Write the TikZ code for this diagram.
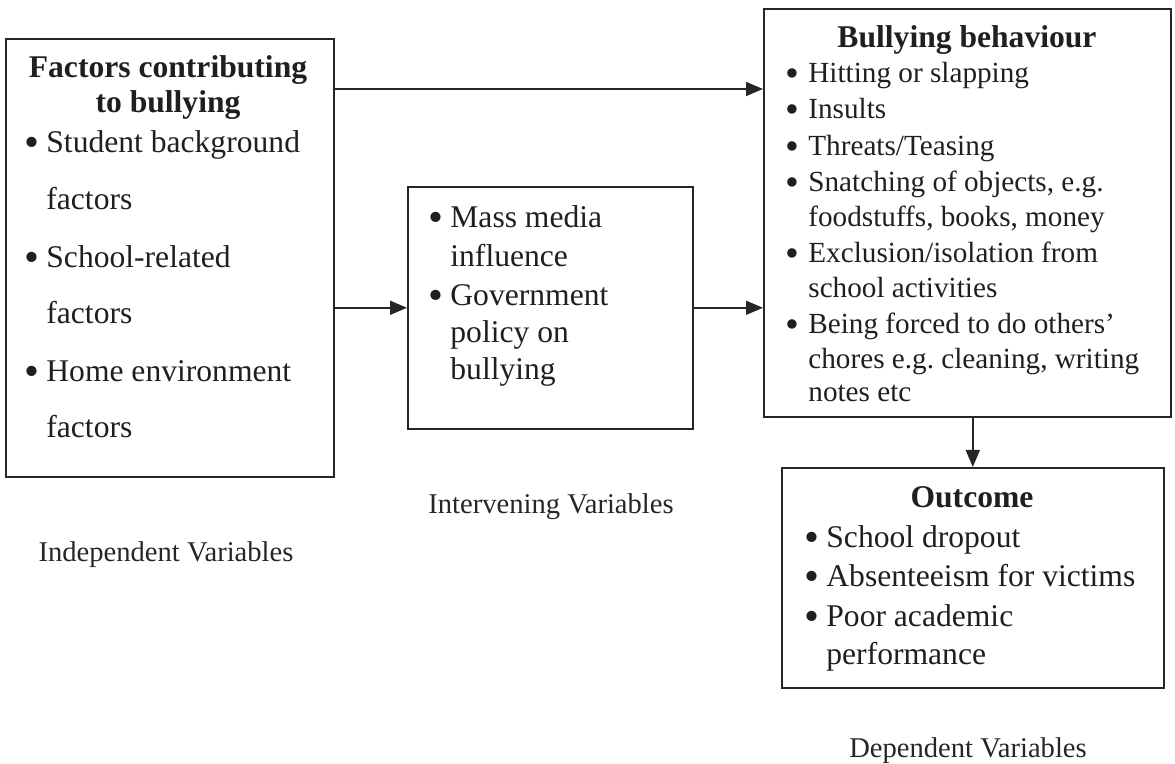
\documentclass[tikz,border=0pt]{standalone}
\usepackage{fontspec}
\setmainfont{Liberation Serif}
\usetikzlibrary{arrows.meta}
\newcommand\fsA{\fontsize{15.8}{19}\selectfont}
\newcommand\fsB{\fontsize{14.6}{18}\selectfont}
\newcommand\fsC{\fontsize{14.3}{17}\selectfont}
\newcommand\bul[1]{\makebox[#1][l]{\raisebox{-0.12em}{\scalebox{1.35}{\textbullet}}}}
\tikzset{
  box/.style={draw=black!85, line width=0.8pt, anchor=north west, inner sep=0pt},
  ta/.style={anchor=base west, inner sep=0pt, font=\fsA, text=black!88},
  tb/.style={anchor=base west, inner sep=0pt, font=\fsB, text=black!88},
  head/.style={anchor=base, inner sep=0pt, font=\fsA\bfseries, text=black!88},
  lab/.style={anchor=base, inner sep=0pt, font=\fsC, text=black!85},
  arr/.style={draw=black!85, line width=0.8pt, -{Triangle[length=8.5pt,width=7pt]}}
}
\begin{document}
\begin{tikzpicture}[x=0.5pt,y=-0.5pt]
\useasboundingbox (0,0) rectangle (1175,764);
% boxes
\node[box, minimum width=164pt, minimum height=219pt] (left) at (5,38) {};
\node[box, minimum width=142.5pt, minimum height=121pt] (mid) at (407,186) {};
\node[box, minimum width=203.5pt, minimum height=204pt] (right) at (763,8) {};
\node[box, minimum width=191pt, minimum height=110pt] (outcome) at (781,467) {};
% left box text
\node[head] (lh1) at (168,78) {Factors contributing};
\node[head] (lh2) at (168,113) {to bullying};
\node[ta] (l1) at (24,153) {\bul{11pt}Student background};
\node[ta] (l2) at (46,210) {factors};
\node[ta] (l3) at (24,268) {\bul{11pt}School-related};
\node[ta] (l4) at (46,324) {factors};
\node[ta] (l5) at (24,382) {\bul{11pt}Home environment};
\node[ta] (l6) at (46,438) {factors};
% middle box text
\node[ta] (m1) at (428,228) {\bul{11pt}Mass media};
\node[ta] (m2) at (450,267) {influence};
\node[ta] (m3) at (428,306) {\bul{11pt}Government};
\node[ta] (m4) at (450,343) {policy on};
\node[ta] (m5) at (450,380) {bullying};
% right box text
\node[head] (rh) at (967,48) {Bullying behaviour};
\node[tb] (r1) at (785,83) {\bul{11.5pt}Hitting or slapping};
\node[tb] (r2) at (785,119) {\bul{11.5pt}Insults};
\node[tb] (r3) at (785,156) {\bul{11.5pt}Threats/Teasing};
\node[tb] (r4) at (785,192) {\bul{11.5pt}Snatching of objects, e.g.};
\node[tb] (r5) at (808,227) {foodstuffs, books, money};
\node[tb] (r6) at (785,263) {\bul{11.5pt}Exclusion/isolation from};
\node[tb] (r7) at (808,298) {school activities};
\node[tb] (r8) at (785,334) {\bul{11.5pt}Being forced to do others'};
\node[tb] (r9) at (808,369) {chores e.g.\ cleaning, writing};
\node[tb] (r10) at (808,402) {notes etc};
% outcome box text
\node[head] (oh) at (972,508) {Outcome};
\node[ta] (o1) at (804,548) {\bul{11pt}School dropout};
\node[ta] (o2) at (804,587) {\bul{11pt}Absenteeism for victims};
\node[ta] (o3) at (804,627) {\bul{11pt}Poor academic};
\node[ta] (o4) at (826,665) {performance};
% labels
\node[lab] (iv) at (551,514) {Intervening Variables};
\node[lab] (indv) at (166,562) {Independent Variables};
\node[lab] (dv) at (968,758) {Dependent Variables};
% connectors
\coordinate (t) at (333,89);
\draw[arr] (t) -- (t -| right.west);
\draw[arr] (left.east |- mid.west) -- (mid.west);
\draw[arr] (mid.east) -- (mid.east -| right.west);
\draw[arr] (right.south -| outcome.north) -- (outcome.north);
\end{tikzpicture}
\end{document}
